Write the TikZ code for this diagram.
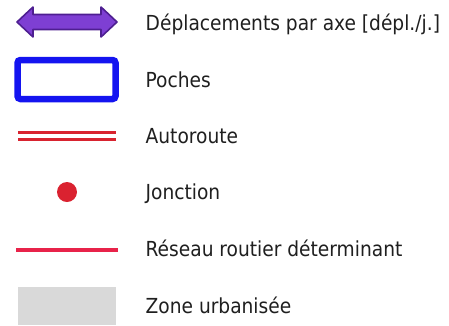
\documentclass[tikz,border=0pt]{standalone}
\usepackage{fontspec}
\setmainfont{DejaVu Sans Condensed}
\definecolor{arrowfill}{HTML}{7E3FD3}
\definecolor{arrowline}{HTML}{4E1F91}
\definecolor{pocket}{HTML}{1414F0}
\definecolor{motorway}{HTML}{D8232F}
\definecolor{junction}{HTML}{DA2230}
\definecolor{roadnet}{HTML}{E8234A}
\definecolor{urban}{HTML}{D9D9D9}
\tikzset{
  label/.style={anchor=base west, inner sep=0pt, font=\fontsize{20.7}{24}\selectfont, text=black!88},
}
\begin{document}
\begin{tikzpicture}[x=1pt,y=-1pt]
\useasboundingbox (0,0) rectangle (449,325);
% double arrow
\draw[fill=arrowfill, draw=arrowline, line width=1.6pt, line join=round]
  (17,22) -- (33,7) -- (33,14.5) -- (101,14.5) -- (101,7) -- (117,22)
  -- (101,37) -- (101,29.5) -- (33,29.5) -- (33,37) -- cycle;
\node[label] (t1) at (145.5,30) {Déplacements par axe [dépl./j.]};
% pocket
\draw[draw=pocket, line width=6.5pt, rounded corners=3pt, fill=white] (17.5,60) rectangle (115.5,99);
\node[label] (t2) at (145.5,87.3) {Poches};
% motorway
\draw[motorway, line width=3.1pt] (18,132.3) -- (116,132.3);
\draw[motorway, line width=3.1pt] (18,139.7) -- (116,139.7);
\node[label] (t3) at (145.5,143.6) {Autoroute};
% junction
\fill[junction] (67,192) circle (10);
\node[label] (t4) at (145.5,199.8) {Jonction};
% road network
\draw[roadnet, line width=4pt] (16,249.5) -- (118,249.5);
\node[label] (t5) at (145.5,256.5) {Réseau routier déterminant};
% urban area
\fill[urban] (18,287) rectangle (116,325);
\node[label] (t6) at (145.5,313.3) {Zone urbanisée};
\end{tikzpicture}
\end{document}
